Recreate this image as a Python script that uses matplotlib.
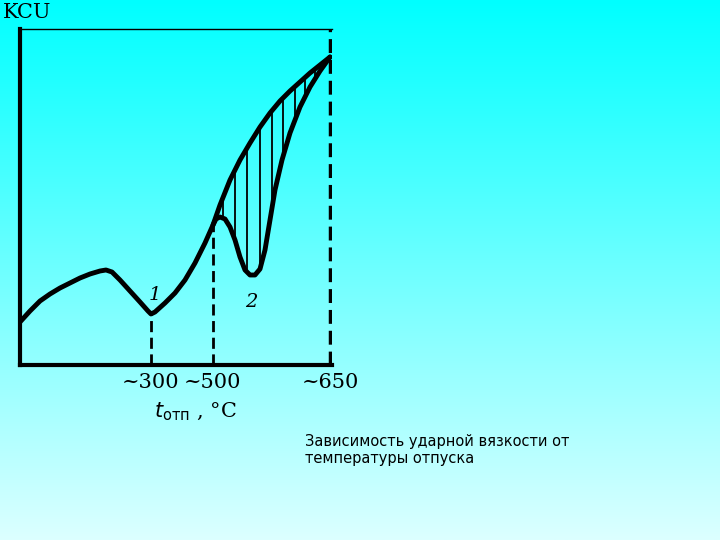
import numpy as np
import matplotlib
matplotlib.use("Agg")
import matplotlib.pyplot as plt
from matplotlib.colors import LinearSegmentedColormap

# curve points (box units: x from left edge, y up from bottom)
main_x = [0, 10, 20, 30, 40, 50, 60, 70, 80, 86, 92, 100, 110, 120, 128, 131, 135, 145, 155, 165,
          175, 185, 193, 200, 210, 220, 230, 240, 250, 260, 270, 280, 290, 300, 310]
main_y = [43, 54, 64, 71, 77, 82, 87, 91, 94, 95, 93, 85, 74, 63, 54, 51, 53, 62, 72, 85,
          102, 122, 140, 160, 185, 205, 222, 238, 252, 264, 274, 283, 292, 300, 308]
b2_x = [193, 196, 200, 205, 210, 215, 220, 225, 230, 235, 240, 245, 250, 255, 262, 270, 280, 290, 300, 310]
b2_y = [140, 146, 148, 146, 138, 125, 108, 95, 90, 90, 96, 115, 145, 175, 205, 232, 258, 278, 294, 308]
hatch_x = [203, 215, 227, 240, 252, 263, 275, 285, 295, 303]
tick_pos = [131, 193, 310]
tick_lab = ["~300", "~500", "~650"]

fig = plt.figure(figsize=(7.2, 5.4), dpi=100)
bg = fig.add_axes([0, 0, 1, 1])
cmap = LinearSegmentedColormap.from_list("", ["#00ffff", "#dcffff"])
bg.imshow(np.linspace(0, 1, 256).reshape(-1, 1), aspect="auto", cmap=cmap, extent=[0, 1, 0, 1])
bg.axis("off")

ax = fig.add_axes([20/720, 175/540, 312/720, 336/540])
ax.patch.set_alpha(0)
ax.set_xlim(0, 312)
ax.set_ylim(0, 336)
ax.plot(main_x, main_y, color="black", lw=3.5, solid_capstyle="round", solid_joinstyle="round")
ax.plot(b2_x, b2_y, color="black", lw=3.5, solid_capstyle="round", solid_joinstyle="round")
for hx in hatch_x:
    ax.plot([hx, hx], [np.interp(hx, b2_x, b2_y), np.interp(hx, main_x, main_y)], color="black", lw=1.3)
for tp in tick_pos[:2]:
    ax.plot([tp, tp], [0, np.interp(tp, main_x, main_y)], color="black", lw=2, ls=(0, (4, 2)))
ax.plot([310, 310], [0, 336], color="black", lw=2.5, ls=(0, (4, 2)))
for s in ["left", "bottom"]:
    ax.spines[s].set_linewidth(3)
ax.spines["top"].set_linewidth(1)
ax.spines["right"].set_visible(False)
ax.set_xticks(tick_pos)
ax.set_xticklabels(tick_lab, fontsize=15, family="DejaVu Serif")
ax.tick_params(length=0, pad=6)
ax.set_yticks([])
ax.text(129, 65, "1", fontsize=14, style="italic", family="DejaVu Serif")
ax.text(225, 58, "2", fontsize=14, style="italic", family="DejaVu Serif")

fig.text(3/720, 1 - 12/540, "KCU", fontsize=15, family="DejaVu Serif", va="center")
fig.text(195/720, 1 - 412/540, r"$t_{\mathrm{отп}}$ , °C", fontsize=15, family="DejaVu Serif", ha="center", va="center")
fig.text(305/720, 1 - 450/540, "Зависимость ударной вязкости от\nтемпературы отпуска", fontsize=10.5, va="center", linespacing=1.2)

fig.savefig("out.png", dpi=100)
